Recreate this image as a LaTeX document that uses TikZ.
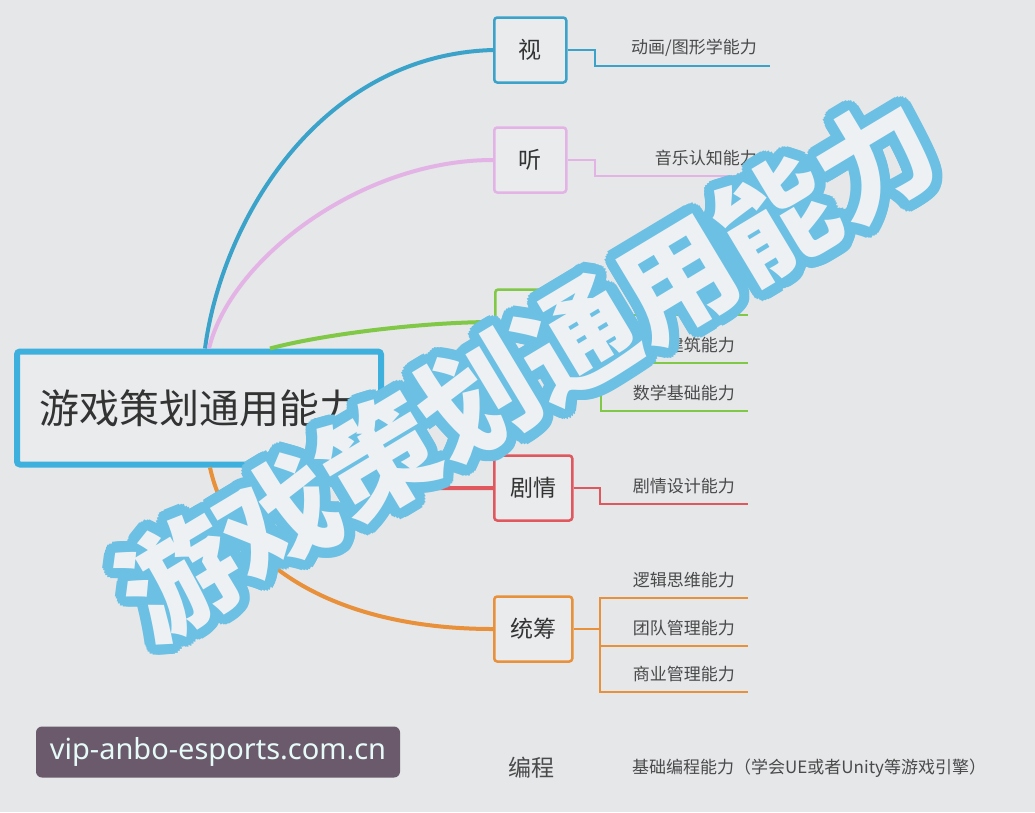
\documentclass[tikz,border=0pt]{standalone}
\usepackage{fontspec}
\setmainfont{Noto Sans CJK SC}
\newfontfamily\wmfont{Noto Sans}
\definecolor{bgc}{HTML}{E5E7E9}
\definecolor{boxbg}{HTML}{E9EBED}
\definecolor{rootblue}{HTML}{3DB0DE}
\definecolor{cblue}{HTML}{3BA2C9}
\definecolor{cpink}{HTML}{E3B3E6}
\definecolor{cgreen}{HTML}{80C846}
\definecolor{cred}{HTML}{E0585E}
\definecolor{corange}{HTML}{E8903A}
\definecolor{txt}{HTML}{333333}
\definecolor{leaftxt}{HTML}{4A4A4A}
\definecolor{ovblue}{HTML}{6BC0E3}
\definecolor{ovwhite}{HTML}{EDF1F4}
\definecolor{wmbg}{HTML}{6B5A6B}
\definecolor{wmtxt}{HTML}{E6FAF8}
\begin{document}
\begin{tikzpicture}[x=1pt,y=-1pt,
    branch/.style={draw,line width=2.5,rounded corners=3,fill=boxbg,
      minimum width=72,minimum height=65,inner xsep=16,anchor=west,
      text=txt,font=\fontsize{23}{23}\selectfont},
    leaf/.style={anchor=south east,inner xsep=13,inner ysep=9.5,
      text=leaftxt,font=\fontsize{17}{17}\selectfont},
    link/.style={line width=4},
    twig/.style={line width=2},
    ovl/.style={rotate=31,inner sep=0,font=\bfseries\fontsize{116}{116}\selectfont}]
  \fill[bgc] (0,0) rectangle (1035,812);

  \node[draw=rootblue,line width=6,rounded corners=3,fill=boxbg,
    minimum width=364,minimum height=113,text=txt,
    font=\fontsize{40}{40}\selectfont] (root) at (199,408) {游戏策划通用能力};

  \node[branch,draw=cblue] (vis) at (493,50) {视};
  \node[branch,draw=cpink] (aud) at (493,160) {听};
  \node[branch,draw=cgreen] (art) at (494,322) {};
  \node[branch,draw=cred] (plot) at (493,488) {剧情};
  \node[branch,draw=corange] (plan) at (493,629) {统筹};
  \node[text=leaftxt,font=\fontsize{23}{23}\selectfont] (code) at (531,768) {编程};

  \node[leaf] (vis1) at (770,66) {动画/图形学能力};
  \node[leaf] (aud1) at (770,176) {音乐认知能力};
  \node[leaf] (art1) at (748,315) {};
  \node[leaf] (art2) at (748,363) {建筑能力};
  \node[leaf] (art3) at (748,411) {数学基础能力};
  \node[leaf] (plot1) at (748,504) {剧情设计能力};
  \node[leaf] (plan1) at (748,598) {逻辑思维能力};
  \node[leaf] (plan2) at (748,646) {团队管理能力};
  \node[leaf] (plan3) at (748,692) {商业管理能力};
  \node[anchor=west,inner sep=0,text=leaftxt,font=\fontsize{17}{17}\selectfont]
    (code1) at (632,768) {基础编程能力（学会UE或者Unity等游戏引擎）};

  \draw[link,cblue] ([xshift=191]root.north west) .. controls (222,220) and (320,55) .. (vis.west);
  \draw[link,cpink] ([xshift=195]root.north west) .. controls (230,260) and (360,160) .. (aud.west);
  \draw[link,cgreen] ([xshift=256]root.north west) .. controls (320,335) and (420,322) .. (art.west);
  \draw[link,cred] ([xshift=283]root.south west) .. controls (320,490) and (400,488) .. (plot.west);
  \draw[link,corange] ([xshift=196]root.south west) .. controls (230,560) and (330,629) .. (plan.west);

  \draw[twig,cblue] (vis.east) -- ++(27,0) |- (vis1.south east);
  \draw[twig,cpink] (aud.east) -- ++(27,0) |- (aud1.south east);
  \draw[twig,cgreen] (art.east) -- ++(32,0) coordinate (gj)
    (gj) |- (art1.south east) (gj) |- (art2.south east) (gj) |- (art3.south east);
  \draw[twig,cred] (plot.east) -- ++(26,0) |- (plot1.south east);
  \draw[twig,corange] (plan.east) -- ++(26,0) coordinate (oj)
    (oj) |- (plan1.south east) (oj) |- (plan2.south east) (oj) |- (plan3.south east);

  \foreach \a in {0,15,...,345}
    \path (527,368) ++(\a:10.5) node[ovl,text=ovblue] {游戏策划通用能力};
  \node[ovl,text=ovwhite] (mark) at (527,368) {游戏策划通用能力};

  \node[fill=wmbg,rounded corners=6,minimum width=364,minimum height=51,
    text=wmtxt,font=\wmfont\fontsize{29}{29}\selectfont] (wm) at (218,752) {vip-anbo-esports.com.cn};
\end{tikzpicture}
\end{document}
